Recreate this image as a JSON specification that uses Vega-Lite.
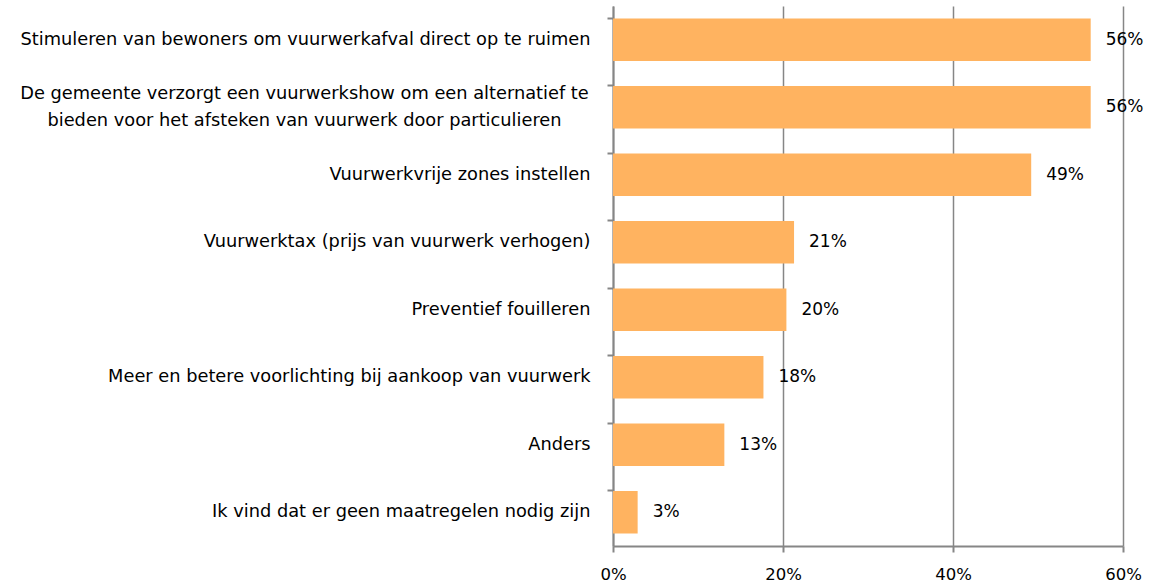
{
  "$schema": "https://vega.github.io/schema/vega-lite/v6.json",
  "width": 510,
  "height": 540,
  "autosize": "none",
  "padding": {"left": 613, "top": 6, "right": 32, "bottom": 40},
  "background": "white",
  "data": {
    "values": [
      {"maatregel": "Stimuleren van bewoners om vuurwerkafval direct op te ruimen", "pct": 0.562},
      {"maatregel": "De gemeente verzorgt een vuurwerkshow om een alternatief te|bieden voor het afsteken van vuurwerk door particulieren", "pct": 0.562},
      {"maatregel": "Vuurwerkvrije zones instellen", "pct": 0.492},
      {"maatregel": "Vuurwerktax (prijs van vuurwerk verhogen)", "pct": 0.213},
      {"maatregel": "Preventief fouilleren", "pct": 0.204},
      {"maatregel": "Meer en betere voorlichting bij aankoop van vuurwerk", "pct": 0.177},
      {"maatregel": "Anders", "pct": 0.131},
      {"maatregel": "Ik vind dat er geen maatregelen nodig zijn", "pct": 0.029}
    ]
  },
  "config": {
    "view": {"stroke": null},
    "font": "DejaVu Sans"
  },
  "encoding": {
    "y": {
      "field": "maatregel",
      "type": "nominal",
      "sort": null,
      "title": null,
      "scale": {"paddingInner": 0.37, "paddingOuter": 0.185},
      "axis": {
        "labelExpr": "split(datum.label, '|')",
        "labelLimit": 0,
        "labelFontSize": 17.8,
        "labelColor": "#000000",
        "labelPadding": {"condition": {"test": "indexof(datum.value, '|') >= 0", "value": 303}, "value": 17},
        "labelAlign": {"condition": {"test": "indexof(datum.value, '|') >= 0", "value": "center"}, "value": "right"},
        "labelOffset": {"condition": {"test": "indexof(datum.value, '|') >= 0", "value": -13}, "value": 0},
        "labelLineHeight": 27,
        "bandPosition": 0,
        "tickSize": 6,
        "tickColor": "#868686",
        "tickWidth": 2,
        "domainColor": "#868686",
        "domainWidth": 2,
        "grid": false
      }
    },
    "x": {
      "field": "pct",
      "type": "quantitative",
      "title": null,
      "scale": {"domain": [0, 0.6], "nice": false},
      "axis": {
        "values": [0, 0.2, 0.4, 0.6],
        "format": ".0%",
        "labelFontSize": 16.5,
        "labelColor": "#000000",
        "labelPadding": 14,
        "tickSize": 6,
        "tickColor": "#868686",
        "tickWidth": 2,
        "domainColor": "#868686",
        "domainWidth": 2,
        "grid": true,
        "gridColor": "#868686",
        "gridWidth": 1.5,
        "labelFlush": false
      }
    }
  },
  "layer": [
    {"mark": {"type": "bar", "color": "#FFB360"}},
    {
      "mark": {"type": "text", "align": "left", "dx": 15, "fontSize": 17, "color": "#000000"},
      "encoding": {"text": {"field": "pct", "type": "quantitative", "format": ".0%"}}
    }
  ]
}
